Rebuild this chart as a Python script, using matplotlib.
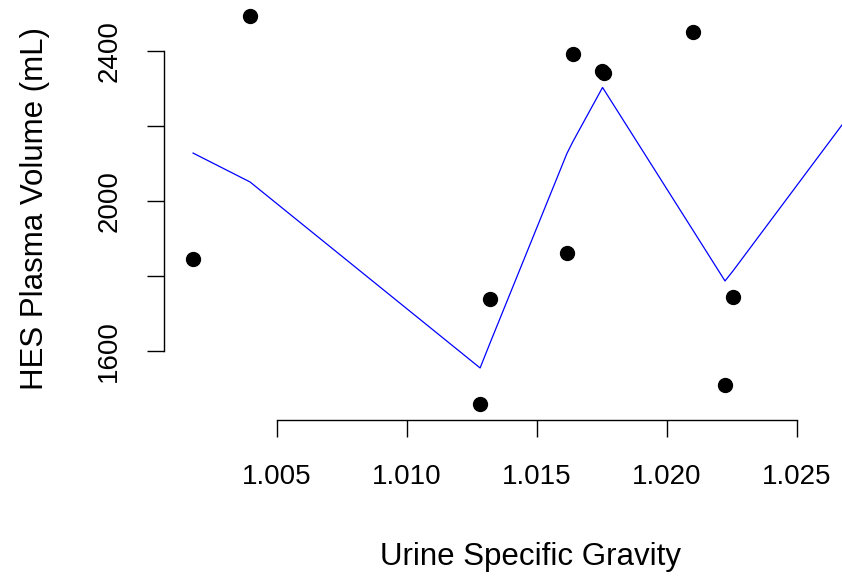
import matplotlib.pyplot as plt

plt.rcParams["font.family"] = ["Liberation Sans", "DejaVu Sans"]

# urine specific gravity vs. HES plasma volume
sg = [1.00178, 1.00397, 1.01282, 1.0132, 1.01616, 1.0164, 1.0175, 1.01757,
      1.0210, 1.02224, 1.02255]
volume = [1844, 2492, 1458, 1738, 1861, 2390, 2345, 2340, 2449, 1509, 1743]

# fitted curve, evaluated at the sorted gravities
fit_sg = [1.00178, 1.00397, 1.01282, 1.0132, 1.01616, 1.0164, 1.01753,
          1.0210, 1.02224, 1.02255, 1.02674]
fit_volume = [2127, 2050, 1554, 1620, 2126, 2159, 2302, 1922, 1786, 1813, 2202]

xticks = [1.005, 1.010, 1.015, 1.020, 1.025]
yticks = [1600, 1800, 2000, 2200, 2400]
ytick_labels = ["1600", "", "2000", "", "2400"]

W, H = 842, 577
fig = plt.figure(figsize=(W / 100, H / 100), dpi=100)
ax = fig.add_axes([164 / W, (H - 420) / H, 1 - 164 / W, 420 / H])

ax.plot(sg, volume, "o", color="black", markersize=10, clip_on=False)
ax.plot(fit_sg, fit_volume, color="#0000FF", linewidth=0.9)

ax.set_xlim(1.000662, 1.02674)
ax.set_ylim(1415.2, 2535.2)

for side in ["top", "right"]:
    ax.spines[side].set_visible(False)
ax.spines["left"].set_bounds(1600, 2400)
ax.spines["bottom"].set_bounds(1.005, 1.025)
for side in ["left", "bottom"]:
    ax.spines[side].set_linewidth(1.0)

ax.set_xticks(xticks)
ax.set_xticklabels([f"{t:.3f}" for t in xticks])
ax.set_yticks(yticks)
ax.set_yticklabels(ytick_labels, rotation=90, va="center")
ax.tick_params(axis="both", direction="out", length=12, width=1.0,
               labelsize=20, colors="black")
ax.tick_params(axis="x", pad=20)
ax.tick_params(axis="y", pad=18)

ax.set_xlabel("Urine Specific Gravity", fontsize=22.5)
ax.set_ylabel("HES Plasma Volume (mL)", fontsize=22.5)
ax.xaxis.set_label_coords((530 - 164) / (W - 164), -(557 - 420) / 420)
ax.yaxis.set_label_coords(-(164 - 35) / (W - 164), (420 - 208) / 420)
ax.xaxis.label.set_va("center")
ax.yaxis.label.set_va("center")

fig.savefig("out.png", dpi=100)
